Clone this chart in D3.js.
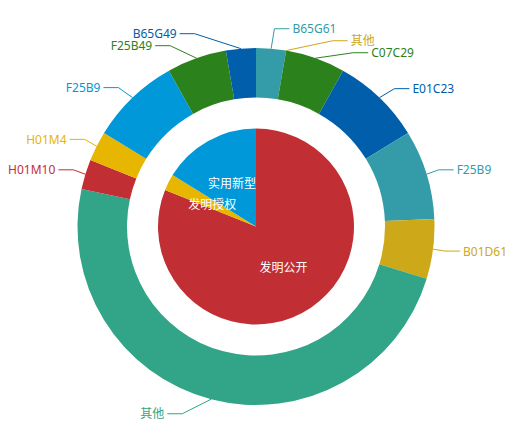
<!DOCTYPE html>
<html>
<head>
<meta charset="utf-8">
<script src="https://cdn.jsdelivr.net/npm/d3@7"></script>
<style>
  html, body { margin: 0; padding: 0; background: #fff; }
  #chart { width: 515px; height: 440px; }
  text { font-family: "Noto Sans", "Noto Sans CJK SC", sans-serif; font-size: 12px; }
</style>
</head>
<body>
<div id="chart"></div>
<script>
// inner pie: patent type
const innerNames = ["发明公开", "发明授权", "实用新型"];
const innerValues = [30, 1, 6];
const innerColors = ["#c12e34", "#e6b600", "#0098d9"];

// outer ring: IPC groups
const outerNames = ["B65G61", "其他", "C07C29", "E01C23", "F25B9", "B01D61", "其他", "H01M10", "H01M4", "F25B9", "F25B49", "B65G49"];
const outerValues = [1, 0, 2, 3, 3, 2, 18, 1, 1, 3, 2, 1];
const outerColors = ["#339ca8", "#cda819", "#2b821d", "#005eaa", "#339ca8", "#cda819", "#32a487", "#c12e34", "#e6b600", "#0098d9", "#2b821d", "#005eaa"];

const width = 515, height = 440;
const cx = 256, cy = 226.5;
const rOuter = 178.5, rInner = 129, rPie = 98;
const len1 = 15, len2 = 15, textGap = 5, lineGap = 3, labelH = 12;

const svg = d3.select("#chart")
    .append("svg")
    .attr("width", width)
    .attr("height", height);

const g = svg.append("g").attr("transform", `translate(${cx},${cy})`);

const pie = d3.pie().sort(null).value(d => d.value);

const innerData = pie(innerNames.map((n, i) => ({ name: n, value: innerValues[i], color: innerColors[i] })));
const outerData = pie(outerNames.map((n, i) => ({ name: n, value: outerValues[i], color: outerColors[i] })));

const arcPie = d3.arc().innerRadius(0).outerRadius(rPie);
const arcRing = d3.arc().innerRadius(rInner).outerRadius(rOuter);

// outer ring
g.append("g")
    .selectAll("path")
    .data(outerData)
    .join("path")
    .attr("d", arcRing)
    .attr("fill", d => d.data.color);

// inner pie
g.append("g")
    .selectAll("path")
    .data(innerData)
    .join("path")
    .attr("d", arcPie)
    .attr("fill", d => d.data.color);

// inner labels
g.append("g")
    .selectAll("text")
    .data(innerData)
    .join("text")
    .attr("x", d => Math.sin((d.startAngle + d.endAngle) / 2) * rPie / 2)
    .attr("y", d => -Math.cos((d.startAngle + d.endAngle) / 2) * rPie / 2)
    .attr("text-anchor", "middle")
    .attr("dominant-baseline", "central")
    .attr("fill", "#fff")
    .text(d => d.data.name);

// outer labels, laid out roughly the way echarts does it
const items = outerData.map(d => {
    const mid = (d.startAngle + d.endAngle) / 2;
    const dx = Math.sin(mid), dy = -Math.cos(mid);
    const dir = dx < 0 ? -1 : 1;
    const x1 = cx + rOuter * dx, y1 = cy + rOuter * dy;
    const x2 = x1 + dx * len1, y2 = y1 + dy * len1;
    return { d, dir, x1, y1, x: x2 + dir * (len2 + textGap), y: y2 };
});

function adjustSide(list, dir) {
    list.sort((a, b) => a.y - b.y);

    function shiftDown(start, end, delta) {
        for (let j = start; j < end; j++) {
            if (list[j].y + delta > height) break;
            list[j].y += delta;
            if (j > start && j + 1 < end && list[j + 1].y > list[j].y + labelH) {
                shiftUp(j, delta / 2);
                return;
            }
        }
        shiftUp(end - 1, delta / 2);
    }
    function shiftUp(end, delta) {
        for (let j = end; j >= 0; j--) {
            if (list[j].y - delta < 0) break;
            list[j].y -= delta;
            if (j > 0 && list[j].y > list[j - 1].y + labelH) break;
        }
    }

    let lastY = 0;
    for (let i = 0; i < list.length; i++) {
        const delta = list[i].y - lastY;
        if (delta < 0) shiftDown(i, list.length, -delta);
        lastY = list[i].y + labelH;
    }

    const R = rOuter + len1;
    function changeX(sub, isDown) {
        let last = isDown ? Number.MAX_VALUE : 0;
        sub.forEach(it => {
            const dyy = Math.abs(it.y - cy);
            let dxx = dyy < R ? Math.sqrt((R + len2) * (R + len2) - dyy * dyy) : Math.abs(it.x - cx);
            if (isDown && dxx >= last) dxx = last - 10;
            if (!isDown && dxx <= last) dxx = last + 10;
            it.x = cx + dxx * dir;
            last = dxx;
        });
    }
    changeX(list.filter(it => it.y < cy), false);
    changeX(list.filter(it => it.y >= cy), true);
}

adjustSide(items.filter(it => it.dir < 0), -1);
adjustSide(items.filter(it => it.dir > 0), 1);

const labels = svg.append("g");

labels.selectAll("polyline")
    .data(items)
    .join("polyline")
    .attr("fill", "none")
    .attr("stroke", it => it.d.data.color)
    .attr("stroke-width", 1)
    .attr("points", it => {
        const x3 = it.x - it.dir * lineGap;
        const x2 = x3 - it.dir * len2;
        return [[it.x1, it.y1], [x2, it.y], [x3, it.y]].map(p => p.join(",")).join(" ");
    });

labels.selectAll("text")
    .data(items)
    .join("text")
    .attr("x", it => it.x)
    .attr("y", it => it.y)
    .attr("text-anchor", it => it.dir < 0 ? "end" : "start")
    .attr("dominant-baseline", "central")
    .attr("fill", it => it.d.data.color)
    .text(it => it.d.data.name);
</script>
</body>
</html>
